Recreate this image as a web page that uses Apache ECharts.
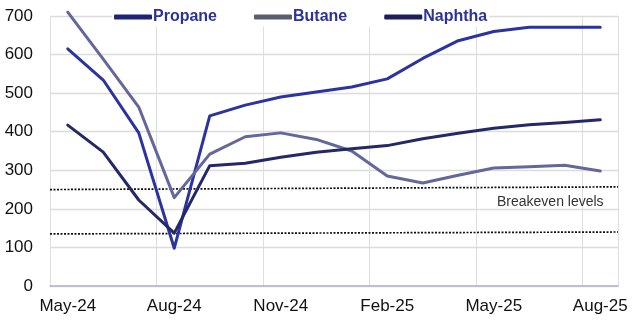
<!DOCTYPE html>
<html>
<head>
<meta charset="utf-8">
<script src="https://cdn.jsdelivr.net/npm/echarts@6/dist/echarts.min.js"></script>
<style>
  html, body { margin: 0; padding: 0; background: #fff; }
  #chart { width: 638px; height: 323px; }
</style>
</head>
<body>
<div id="chart"></div>
<script>
// Monthly price levels, May-24 to Aug-25
const months = ['May-24','Jun-24','Jul-24','Aug-24','Sep-24','Oct-24','Nov-24','Dec-24',
                'Jan-25','Feb-25','Mar-25','Apr-25','May-25','Jun-25','Jul-25','Aug-25'];
const propane = [615, 534, 397, 98, 441, 469, 490, 503, 516, 537, 590, 636, 660, 671, 671, 671];
const butane  = [710, 588, 464, 229, 342, 387, 397, 380, 350, 285, 267, 287, 306, 309, 313, 298];
const naphtha = [417, 347, 223, 137, 312, 318, 334, 347, 356, 364, 382, 396, 409, 418, 424, 431];

// Breakeven levels, drawn across the full plot width (0 .. 16 month slots)
const breakevenHigh = [[0, 250], [16, 257]];
const breakevenLow  = [[0, 135], [16, 140]];

const yTicks = { min: 0, max: 700, interval: 100 };

const FONT = '"Liberation Sans", Arial, sans-serif';
const C_PROPANE = '#2b33a2';
const C_BUTANE = '#63679a';
const C_NAPHTHA = '#232867';

const chart = echarts.init(document.getElementById('chart'), null, { renderer: 'canvas' });

const lineSeries = (name, data, color) => ({
  name, type: 'line', data,
  xAxisIndex: 0, yAxisIndex: 0,
  symbol: 'none',
  clip: false,
  lineStyle: { color, width: 3, cap: 'round', join: 'round' },
  itemStyle: { color },
  z: 3
});

const breakevenSeries = (data) => ({
  type: 'line', data,
  xAxisIndex: 1, yAxisIndex: 0,
  symbol: 'none', silent: true,
  clip: false,
  lineStyle: { color: '#111', width: 1.7, type: [2, 1.5] },
  z: 2
});

chart.setOption({
  animation: false,
  backgroundColor: '#fff',
  textStyle: { fontFamily: FONT },
  grid: { left: 50, right: 20, top: 16, bottom: 37, containLabel: false },
  legend: {
    top: 7, left: 112,
    backgroundColor: '#fff',
    padding: [2, 2, 2, 2],
    icon: 'roundRect',
    itemWidth: 38, itemHeight: 5,
    itemGap: 37,
    textStyle: { color: '#2b3399', fontSize: 16, fontWeight: 'bold', fontFamily: FONT, padding: [0, 0, 0, -4] },
    data: [
      { name: 'Propane', itemStyle: { color: '#1f2378' } },
      { name: 'Butane', itemStyle: { color: '#5a5c70' } },
      { name: 'Naphtha', itemStyle: { color: '#1c1f5c' } }
    ]
  },
  xAxis: [
    {
      type: 'category',
      data: months,
      boundaryGap: true,
      axisLine: { show: true, lineStyle: { color: '#aeb0d2', width: 1.5 } },
      axisTick: { show: false, interval: 2 },
      axisLabel: { interval: 2, color: '#111', fontSize: 17, margin: 12, fontFamily: FONT },
      splitLine: { show: true, interval: 2, lineStyle: { color: '#dedede', width: 1 } }
    },
    {
      type: 'value', min: 0, max: 16, show: false
    }
  ],
  yAxis: {
    type: 'value',
    min: yTicks.min, max: yTicks.max, interval: yTicks.interval,
    axisLine: { show: false },
    axisTick: { show: false },
    axisLabel: { color: '#111', fontSize: 17, margin: 17, fontFamily: FONT },
    splitLine: { lineStyle: { color: '#dcdcdc', width: 1.3 } }
  },
  graphic: [
    {
      type: 'text', left: 497, top: 195, z: 10,
      style: { text: 'Breakeven levels', fill: '#333', font: '14px ' + FONT }
    }
  ],
  series: [
    breakevenSeries(breakevenHigh),
    breakevenSeries(breakevenLow),
    lineSeries('Propane', propane, C_PROPANE),
    lineSeries('Butane', butane, C_BUTANE),
    lineSeries('Naphtha', naphtha, C_NAPHTHA)
  ]
});
</script>
</body>
</html>
